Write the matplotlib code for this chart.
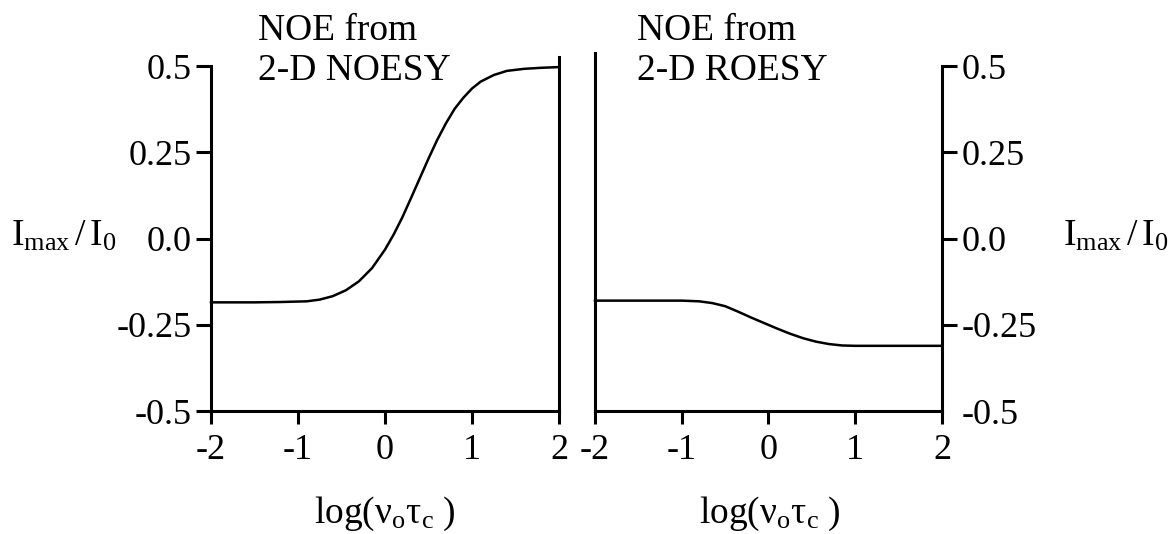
import matplotlib
matplotlib.use("Agg")
import matplotlib.pyplot as plt

plt.rcParams['font.family'] = ['Liberation Serif', 'DejaVu Serif']
plt.rcParams['mathtext.fontset'] = 'custom'
plt.rcParams['mathtext.rm'] = 'Liberation Serif'
plt.rcParams['mathtext.it'] = 'Liberation Serif:italic'
plt.rcParams['axes.unicode_minus'] = False

# log(nu_o tau_c) vs Imax/I0
noesy_x = [-2.0, -1.5, -1.2, -0.9, -0.75, -0.6, -0.45, -0.3, -0.15, 0.0, 0.1, 0.2, 0.3,
           0.4, 0.5, 0.6, 0.7, 0.8, 0.9, 1.0, 1.1, 1.25, 1.4, 1.6, 1.8, 2.0]
noesy_y = [-0.185, -0.185, -0.184, -0.182, -0.177, -0.167, -0.150, -0.124, -0.086, -0.032,
           0.012, 0.062, 0.118, 0.175, 0.232, 0.286, 0.334, 0.376, 0.408, 0.435, 0.455,
           0.474, 0.486, 0.492, 0.495, 0.497]

roesy_x = [-2.0, -1.0, -0.8, -0.65, -0.5, -0.35, -0.2, -0.05, 0.1, 0.25, 0.4, 0.55,
           0.7, 0.85, 1.0, 2.0]
roesy_y = [-0.180, -0.180, -0.182, -0.187, -0.196, -0.212, -0.229, -0.245, -0.261, -0.276,
           -0.289, -0.299, -0.306, -0.310, -0.311, -0.311]

x_ticks = [-2, -1, 0, 1, 2]
x_labels = ['-2', '-1', '0', '1', '2']
y_ticks = [-0.5, -0.25, 0.0, 0.25, 0.5]
y_labels = ['-0.5', '-0.25', '0.0', '0.25', '0.5']

FS = 26      # tick labels
FT = 27      # other text
LW = 2.2

fig = plt.figure(figsize=(11.71, 5.34), dpi=100)
ax1 = fig.add_axes([0.1802, 0.2303, 0.2972, 0.646])
ax2 = fig.add_axes([0.5081, 0.2303, 0.2963, 0.646])

for ax in (ax1, ax2):
    ax.set_xlim(-2, 2)
    ax.set_ylim(-0.5, 0.5)
    ax.set_xticks(x_ticks)
    ax.set_xticklabels(x_labels)
    ax.set_yticks(y_ticks)
    ax.set_yticklabels(y_labels)
    ax.spines['top'].set_visible(False)
    for s in ax.spines.values():
        s.set_linewidth(LW)
    ax.tick_params(axis='x', direction='out', length=9.5, width=LW, pad=7, labelsize=FS)
    ax.tick_params(axis='y', direction='out', length=11, width=LW, pad=3, labelsize=FS)
    ax.patch.set_visible(False)

# left panel
ax1.plot(noesy_x, noesy_y, color='black', lw=1.8, clip_on=False)
ax1.spines['right'].set_bounds(-0.5, 0.525)
ax1.yaxis.set_ticks_position('left')
ax1.text(0.135, 1.075, 'NOE from', transform=ax1.transAxes, fontsize=FT, va='baseline')
ax1.text(0.135, 0.959, '2-D NOESY', transform=ax1.transAxes, fontsize=FT, va='baseline')

# right panel
ax2.plot(roesy_x, roesy_y, color='black', lw=1.8, clip_on=False)
ax2.spines['left'].set_bounds(-0.5, 0.538)
ax2.yaxis.set_ticks_position('right')
ax2.yaxis.get_major_ticks()[0].tick2line.set_visible(False)
ax2.text(0.121, 1.075, 'NOE from', transform=ax2.transAxes, fontsize=FT, va='baseline')
ax2.text(0.121, 0.959, '2-D ROESY', transform=ax2.transAxes, fontsize=FT, va='baseline')

ylab = r'$\mathrm{I_{max}\,/\,I_0}$'
fig.text(0.009, 0.541, ylab, fontsize=FT, ha='left', va='baseline')
fig.text(0.908, 0.541, ylab, fontsize=FT, ha='left', va='baseline')

xlab = r'$\mathrm{log(\nu_{o}\tau_{c}\ )}$'
fig.text(0.329, 0.0206, xlab, fontsize=FT, ha='center', va='baseline')
fig.text(0.657, 0.0206, xlab, fontsize=FT, ha='center', va='baseline')

fig.savefig('out.png', dpi=100)
